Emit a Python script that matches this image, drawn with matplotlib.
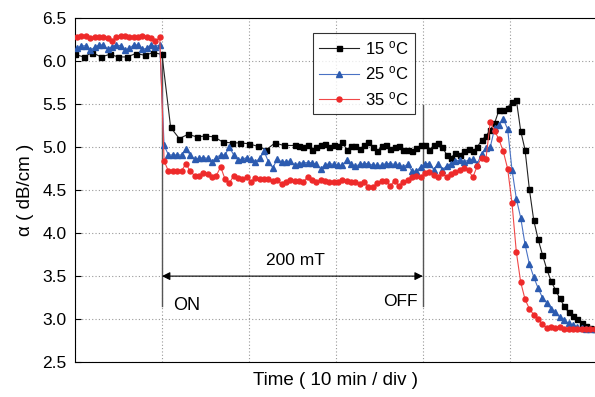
import numpy as np
import matplotlib.pyplot as plt

plt.rcParams['font.family'] = ['Liberation Sans', 'DejaVu Sans']
plt.rcParams['mathtext.fontset'] = 'custom'
plt.rcParams['mathtext.rm'] = 'Liberation Sans'
plt.rcParams['mathtext.it'] = 'Liberation Sans:italic'

# time in minutes (10 min / div); 15 C sampled every 1 min first, then every 0.5 min
t_15 = np.concatenate([np.arange(0, 25), 25.25 + 0.5 * np.arange(70)])
t_25 = 0.25 + 0.5 * np.arange(120)
t_35 = 0.25 + 0.5 * np.arange(120)

alpha_15 = [
    6.08, 6.05, 6.10, 6.05, 6.08, 6.05, 6.05, 6.09, 6.07, 6.10, 6.08,
    5.23, 5.10, 5.15, 5.12, 5.13, 5.12, 5.06, 5.05, 5.05, 5.04, 5.01, 4.97, 5.05, 5.02,
    5.02, 5.01, 5.00, 5.02, 4.97, 5.00, 5.03, 5.04, 5.00, 5.02,
    5.01, 5.06, 4.97, 5.01, 5.01, 4.98, 5.02, 5.06, 5.00, 4.95,
    5.01, 5.02, 4.98, 5.00, 5.01, 4.97, 4.97, 4.96, 4.99, 5.02,
    5.02, 4.97, 5.02, 5.05, 5.00, 4.91, 4.88,
    4.93, 4.91, 4.95, 4.98, 4.95, 5.00, 5.08, 5.13, 5.20, 5.28,
    5.43, 5.43, 5.46, 5.53, 5.55, 5.19, 4.97, 4.51, 4.15,
    3.93, 3.75, 3.58, 3.44, 3.34, 3.24, 3.15, 3.08, 3.04, 3.00, 2.96, 2.92, 2.90, 2.89,
]

alpha_25 = [
    6.15, 6.18, 6.18, 6.13, 6.16, 6.19, 6.19, 6.14, 6.17, 6.19,
    6.18, 6.13, 6.15, 6.19, 6.19, 6.14, 6.15, 6.19, 6.17, 6.19,
    5.02, 4.91, 4.91, 4.91, 4.91, 4.98, 4.91, 4.86, 4.87, 4.88,
    4.87, 4.83, 4.88, 4.91, 4.91, 5.00, 4.91, 4.85, 4.86, 4.88,
    4.86, 4.83, 4.87, 4.95, 4.83, 4.76, 4.86, 4.83, 4.83, 4.84, 4.79,
    4.81, 4.82, 4.82, 4.82, 4.80, 4.75, 4.79, 4.81, 4.80, 4.79,
    4.79, 4.85, 4.80, 4.78, 4.80, 4.81, 4.81, 4.79, 4.79, 4.79,
    4.81, 4.81, 4.80, 4.79, 4.77, 4.80, 4.72, 4.72, 4.77, 4.81,
    4.81, 4.74, 4.81, 4.74, 4.78,
    4.81, 4.84, 4.85, 4.83, 4.85, 4.86, 4.81, 4.92, 4.99, 5.00,
    5.22, 5.26, 5.33, 5.21, 4.74, 4.40, 4.18, 3.87, 3.64, 3.49,
    3.36, 3.25, 3.19, 3.12, 3.08, 3.02, 2.99, 2.95, 2.93, 2.91,
    2.90, 2.89, 2.88, 2.88,
]

alpha_35 = [
    6.28, 6.29, 6.29, 6.27, 6.28, 6.28, 6.28, 6.27, 6.24, 6.28,
    6.29, 6.29, 6.28, 6.28, 6.28, 6.29, 6.28, 6.27, 6.23, 6.28,
    4.84, 4.72, 4.72, 4.72, 4.72, 4.81, 4.72, 4.67, 4.67, 4.70,
    4.69, 4.65, 4.67, 4.77, 4.63, 4.58, 4.67, 4.64, 4.63, 4.65,
    4.60, 4.64, 4.63, 4.63, 4.63, 4.61, 4.62, 4.57, 4.60, 4.62, 4.61, 4.61,
    4.60, 4.65, 4.62, 4.59, 4.62, 4.61, 4.60, 4.60, 4.60, 4.62,
    4.61, 4.60, 4.60, 4.57, 4.60, 4.54, 4.54, 4.58, 4.61, 4.61,
    4.55, 4.61, 4.55, 4.60, 4.62, 4.65, 4.67, 4.65, 4.70, 4.71,
    4.68, 4.65, 4.70, 4.65, 4.69,
    4.71, 4.74, 4.76, 4.73, 4.65, 4.78, 4.88, 4.86, 5.29, 5.19,
    5.09, 4.95, 4.75, 4.35, 3.78, 3.43, 3.23, 3.12, 3.05, 3.00,
    2.94, 2.90, 2.91, 2.90, 2.91, 2.88, 2.88, 2.88, 2.89, 2.88,
    2.88, 2.88, 2.89,
]

t_on, t_off = 10, 40
field_label = '200 mT'

fig = plt.figure(figsize=(5.95, 3.97), dpi=100)
ax = fig.add_axes([0.126, 0.088, 0.877, 0.866])

ax.plot(t_15, alpha_15, color='#222222', lw=0.8, marker='s', ms=3.6,
        mfc='black', mec='black', label='15 $^{\\rm o}$C', zorder=3)
ax.plot(t_25, alpha_25, color='#4a72c4', lw=0.8, marker='^', ms=4.2,
        mfc='#2c5bb0', mec='#2c5bb0', label='25 $^{\\rm o}$C', zorder=4)
ax.plot(t_35, alpha_35, color='#f04848', lw=0.8, marker='o', ms=3.6,
        mfc='#ee2a2a', mec='#ee2a2a', label='35 $^{\\rm o}$C', zorder=5)

# field on / off markers
ax.plot([t_on, t_on], [3.15, 6.1], color='#555555', lw=1.0, zorder=2)
ax.plot([t_off, t_off], [3.15, 5.49], color='#555555', lw=1.0, zorder=2)
ax.annotate('', xy=(t_on, 3.5), xytext=(t_off, 3.5),
            arrowprops=dict(arrowstyle='<|-|>', color='black', lw=0.8,
                            mutation_scale=12, shrinkA=0, shrinkB=0))
ax.text(25.3, 3.68, field_label, ha='center', va='center', fontsize=12.5)
ax.text(12.9, 3.16, 'ON', ha='center', va='center', fontsize=13)
ax.text(37.4, 3.20, 'OFF', ha='center', va='center', fontsize=12.5)

ax.set_xlim(0, 60)
ax.set_ylim(2.5, 6.5)
ax.set_xticks(np.arange(0, 61, 10))
ax.set_xticklabels([])
ax.set_yticks(np.arange(2.5, 6.51, 0.5))
ax.set_yticklabels([f'{v:.1f}' for v in np.arange(2.5, 6.51, 0.5)], fontsize=12.5)
ax.tick_params(axis='x', length=0)
ax.tick_params(axis='y', direction='in', length=4, pad=6)
ax.grid(True, color='#999999', lw=0.8, linestyle=(0, (1, 2)))
ax.set_axisbelow(True)

ax.set_ylabel('α ( dB/cm )', fontsize=13.5, labelpad=6)
ax.set_xlabel('Time ( 10 min / div )', fontsize=13.5, labelpad=4)

leg = ax.legend(loc='upper left', bbox_to_anchor=(0.456, 0.956), fontsize=12,
                frameon=True, fancybox=False, edgecolor='black', borderaxespad=0,
                handlelength=2.4, handletextpad=0.4, borderpad=0.35,
                labelspacing=0.45)
leg.get_frame().set_linewidth(0.8)

fig.savefig('out.png', dpi=100)
